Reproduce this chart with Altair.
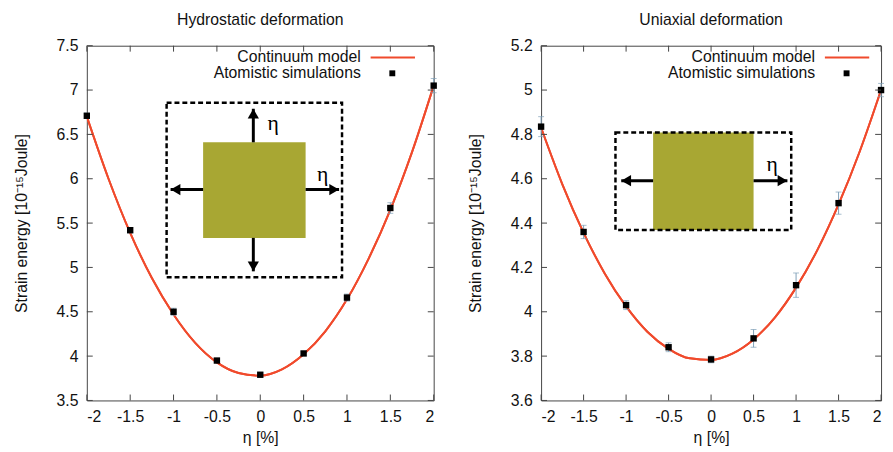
import altair as alt
import pandas as pd

# ---------------- data ----------------
eta = [-2, -1.5, -1, -0.5, 0, 0.5, 1, 1.5, 2]

hydro_energy = [6.71, 5.42, 4.50, 3.95, 3.79, 4.03, 4.66, 5.67, 7.05]
hydro_err = [0.03, 0.03, 0.04, 0.02, 0.02, 0.02, 0.04, 0.06, 0.08]

uni_energy = [4.835, 4.36, 4.03, 3.84, 3.785, 3.88, 4.12, 4.49, 5.00]
uni_err = [0.045, 0.03, 0.02, 0.02, 0.015, 0.04, 0.055, 0.05, 0.03]

model_eta = [-2, -1.75, -1.5, -1.25, -1, -0.75, -0.5, -0.25, 0,
             0.25, 0.5, 0.75, 1, 1.25, 1.5, 1.75, 2]
hydro_model = [6.70, 6.00, 5.39, 4.88, 4.47, 4.15, 3.93, 3.81, 3.78,
               3.85, 4.02, 4.28, 4.64, 5.10, 5.65, 6.30, 7.05]
uni_model = [4.83, 4.575, 4.356, 4.172, 4.024, 3.910, 3.833, 3.790, 3.783,
             3.811, 3.875, 3.974, 4.109, 4.278, 4.484, 4.724, 5.00]

x_ticks = [-2, -1.5, -1, -0.5, 0, 0.5, 1, 1.5, 2]
hydro_ticks = [3.5, 4, 4.5, 5, 5.5, 6, 6.5, 7, 7.5]
uni_ticks = [3.6, 3.8, 4, 4.2, 4.4, 4.6, 4.8, 5, 5.2]

titles = ["Hydrostatic deformation", "Uniaxial deformation"]
legend_labels = ["Continuum model", "Atomistic simulations"]
x_title = "η [%]"
y_title = "Strain energy [10⁻¹⁵Joule]"

# ---------------- styles ----------------
FONT = "Liberation Sans"
RED = "#f04a2c"
ERR = "#7f9fb8"
OLIVE = "#a8a733"
FRAME = "#444444"
H = 360

# inset geometry (data units of each panel)
insets = [
    dict(frame=(-1.08, 0.943, 6.856, 4.889), box=(-0.659, 0.523, 6.411, 5.333),
         harrow_y=5.878, left=(-0.659, -1.034), right=(0.523, 0.909),
         varrow_x=-0.08, up=(6.411, 6.789), down=(5.333, 4.956),
         etas=[(0.15, 6.63), (0.72, 6.05)]),
    dict(frame=(-1.125, 0.943, 4.809, 4.369), box=(-0.682, 0.5, 4.809, 4.369),
         harrow_y=4.591, left=(-0.682, -1.057), right=(0.5, 0.898),
         varrow_x=None, up=None, down=None,
         etas=[(0.72, 4.668)]),
]

LBL = "replace(format(datum.value, '~g'), '\u2212', '-')"


def panel(title, energy, err, model, ydom, yticks, inset, width):
    xs = alt.Scale(domain=[-2, 2], nice=False, zero=False)
    ys = alt.Scale(domain=ydom, nice=False, zero=False)

    def X(f="x"):
        return alt.X(f + ":Q", scale=xs)

    def Y(f="y"):
        return alt.Y(f + ":Q", scale=ys)

    pts = pd.DataFrame({"x": eta, "y": energy,
                        "lo": [e - d for e, d in zip(energy, err)],
                        "hi": [e + d for e, d in zip(energy, err)]})
    mdl = pd.DataFrame({"x": model_eta, "y": model})

    layers = []

    # ---- model curve (carries the axes) ----
    layers.append(alt.Chart(mdl).mark_line(color=RED, strokeWidth=2,
                                           interpolate="monotone", clip=True).encode(
        x=alt.X("x:Q", scale=xs, axis=alt.Axis(
            values=x_ticks, title=x_title, labelExpr=LBL,
            labelPadding=8, titlePadding=6)),
        y=alt.Y("y:Q", scale=ys, axis=alt.Axis(
            values=yticks, title=y_title, labelExpr=LBL,
            labelPadding=9, titlePadding=27))))

    # ---- inset diagram ----
    fx0, fx1, fy0, fy1 = inset["frame"]
    bx0, bx1, by0, by1 = inset["box"]
    box = pd.DataFrame({"x": [bx0], "x2": [bx1], "y": [by0], "y2": [by1]})
    layers.append(alt.Chart(box).mark_rect(color=OLIVE).encode(
        x=X(), x2="x2:Q", y=Y(), y2="y2:Q"))
    frame = pd.DataFrame({"x": [fx0], "x2": [fx1], "y": [fy0], "y2": [fy1]})
    layers.append(alt.Chart(frame).mark_rect(
        fill="white", fillOpacity=0, stroke="black", strokeWidth=2.5,
        strokeDash=[5, 3]).encode(x=X(), x2="x2:Q", y=Y(), y2="y2:Q"))

    harr = pd.DataFrame({"x": [inset["left"][0], inset["right"][0]],
                         "x2": [inset["left"][1], inset["right"][1]],
                         "y": [inset["harrow_y"]] * 2})
    layers.append(alt.Chart(harr).mark_rule(color="black", strokeWidth=3).encode(
        x=X(), x2="x2:Q", y=Y()))
    for (xe, shape, off) in [(inset["left"][1], "triangle-left", 5),
                             (inset["right"][1], "triangle-right", -5)]:
        layers.append(alt.Chart(pd.DataFrame({"x": [xe], "y": [inset["harrow_y"]]}))
                      .mark_point(shape=shape, filled=True, size=130, color="black",
                                  opacity=1, xOffset=off).encode(x=X(), y=Y()))
    if inset["up"] is not None:
        varr = pd.DataFrame({"x": [inset["varrow_x"]] * 2,
                             "y": [inset["up"][0], inset["down"][0]],
                             "y2": [inset["up"][1], inset["down"][1]]})
        layers.append(alt.Chart(varr).mark_rule(color="black", strokeWidth=3).encode(
            x=X(), y=Y(), y2="y2:Q"))
        for (ye, shape, off) in [(inset["up"][1], "triangle-up", 5),
                                 (inset["down"][1], "triangle-down", -5)]:
            layers.append(alt.Chart(pd.DataFrame({"x": [inset["varrow_x"]], "y": [ye]}))
                          .mark_point(shape=shape, filled=True, size=130, color="black",
                                      opacity=1, yOffset=off).encode(x=X(), y=Y()))
    et = pd.DataFrame({"x": [p[0] for p in inset["etas"]],
                       "y": [p[1] for p in inset["etas"]], "t": ["η"] * len(inset["etas"])})
    layers.append(alt.Chart(et).mark_text(font="Liberation Serif", fontSize=22,
                                          color="black").encode(
        x=X(), y=Y(), text="t:N"))

    # ---- model curve drawn again on top of the inset ----
    layers.append(alt.Chart(mdl).mark_line(color=RED, strokeWidth=2,
                                           interpolate="monotone", clip=True).encode(
        x=X(), y=Y()))

    # ---- error bars ----
    layers.append(alt.Chart(pts).mark_rule(color=ERR, strokeWidth=1).encode(
        x=X(), y=Y("lo"), y2="hi:Q"))
    for f in ["lo", "hi"]:
        layers.append(alt.Chart(pts).mark_tick(color=ERR, orient="horizontal",
                                               size=6, thickness=1).encode(
            x=X(), y=Y(f)))

    # ---- simulation points ----
    layers.append(alt.Chart(pts).mark_square(size=42, color="black", opacity=1).encode(
        x=X(), y=Y()))

    # ---- inward ticks (gnuplot style) on all four sides ----
    xt = pd.DataFrame({"x": x_ticks})
    yt = pd.DataFrame({"y": yticks})
    layers.append(alt.Chart(xt).mark_rule(color=FRAME, strokeWidth=1).encode(
        x=X(), y=alt.value(H), y2=alt.value(H - 6)))
    layers.append(alt.Chart(xt).mark_rule(color=FRAME, strokeWidth=1).encode(
        x=X(), y=alt.value(0), y2=alt.value(6)))
    layers.append(alt.Chart(yt).mark_rule(color=FRAME, strokeWidth=1).encode(
        y=Y(), x=alt.value(0), x2=alt.value(6)))
    layers.append(alt.Chart(yt).mark_rule(color=FRAME, strokeWidth=1).encode(
        y=Y(), x=alt.value(width - 6), x2=alt.value(width)))

    # ---- key ----
    tx = 278
    for i, lab in enumerate(legend_labels):
        layers.append(alt.Chart(pd.DataFrame({"t": [lab]})).mark_text(
            align="right", baseline="middle", font=FONT, fontSize=16, color="#111").encode(
            x=alt.value(tx), y=alt.value(12 + 16 * i), text="t:N"))
    layers.append(alt.Chart(pd.DataFrame({"t": [0]})).mark_rule(
        color=RED, strokeWidth=2).encode(x=alt.value(288), x2=alt.value(333), y=alt.value(12)))
    layers.append(alt.Chart(pd.DataFrame({"t": [0]})).mark_square(
        size=36, color="black", opacity=1).encode(x=alt.value(310), y=alt.value(28)))

    return alt.layer(*layers).properties(
        width=width, height=H,
        title=alt.TitleParams(title, font=FONT, fontSize=16, fontWeight="normal",
                              color="#111", offset=10, anchor="middle"))


left = panel(titles[0], hydro_energy, hydro_err, hydro_model, [3.5, 7.5],
             hydro_ticks, insets[0], 352)
right = panel(titles[1], uni_energy, uni_err, uni_model, [3.6, 5.2],
              uni_ticks, insets[1], 345)

chart = alt.hconcat(left, right, spacing=30).properties(
    padding={"left": 5, "top": 0, "right": 0, "bottom": 0}
).configure_view(stroke=FRAME, strokeWidth=1).configure_axis(
    labelFont=FONT, labelFontSize=16, labelColor="#111",
    titleFont=FONT, titleFontSize=16, titleFontWeight="normal", titleColor="#111",
    ticks=False, domain=False, grid=False
).configure_axisY(titleFontSize=16)

chart.save("out.html", embed_options={"renderer": "svg", "actions": False})
